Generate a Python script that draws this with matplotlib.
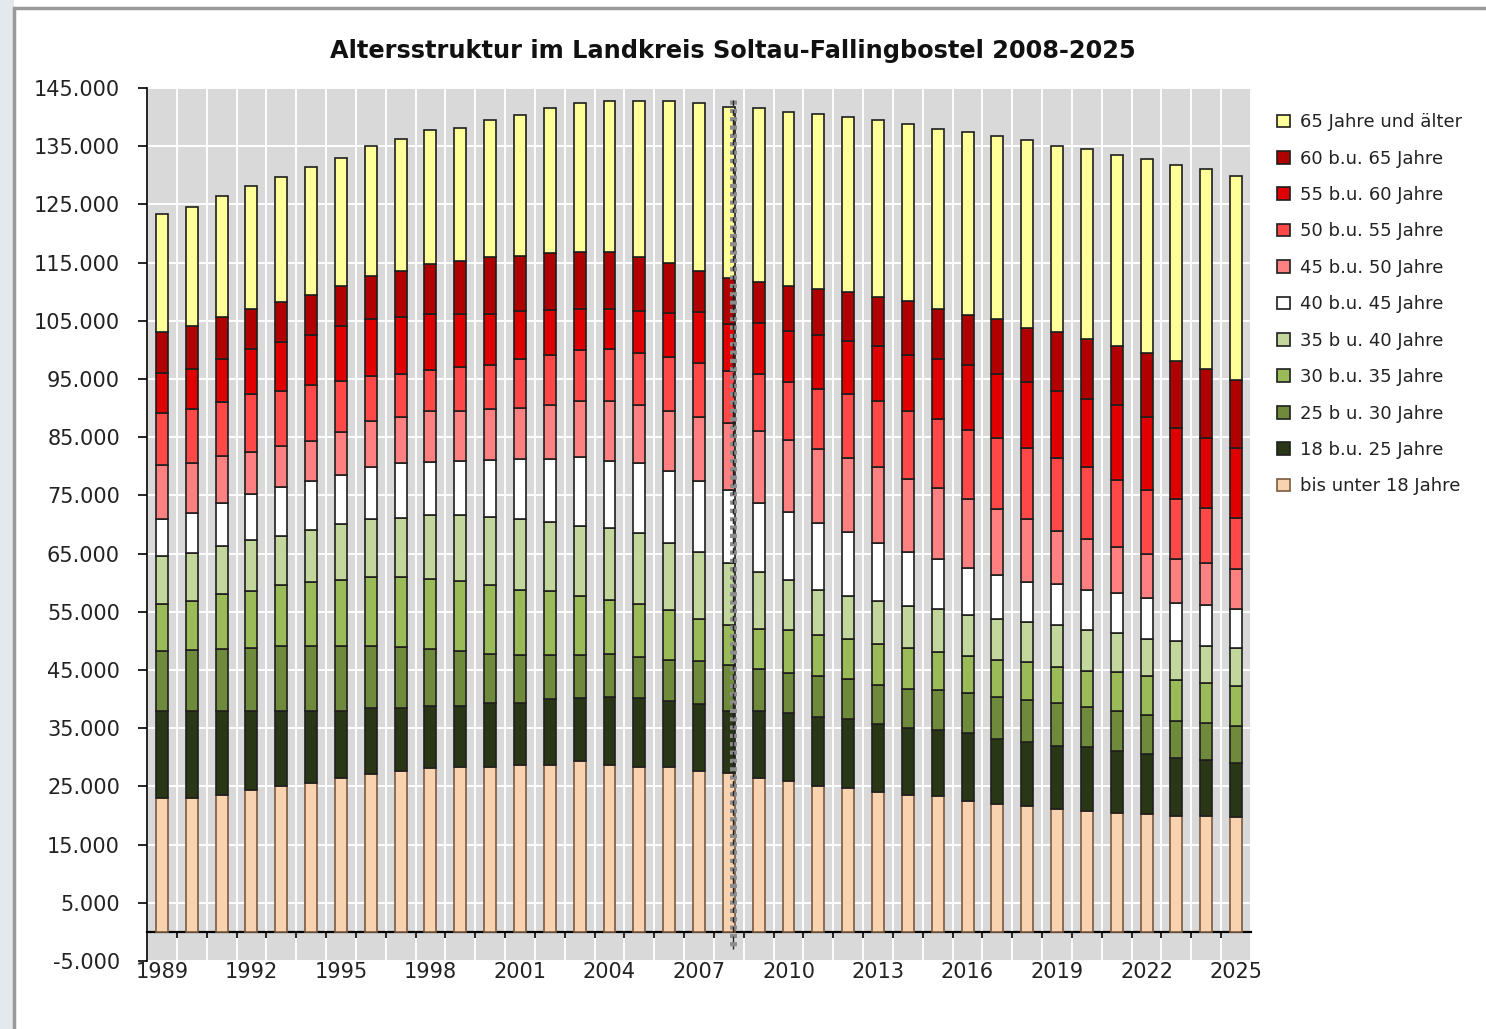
import matplotlib
matplotlib.use("Agg")
import matplotlib.pyplot as plt
from matplotlib.patches import Rectangle
from matplotlib.ticker import FuncFormatter
import numpy as np

years = list(range(1989, 2026))

labels = [
    "bis unter 18 Jahre", "18 b.u. 25 Jahre", "25 b u. 30 Jahre", "30 b.u. 35 Jahre",
    "35 b u. 40 Jahre", "40 b.u. 45 Jahre", "45 b.u. 50 Jahre", "50 b.u. 55 Jahre",
    "55 b.u. 60 Jahre", "60 b.u. 65 Jahre", "65 Jahre und älter",
]
colors = [
    "#F9D2B0", "#2A3716", "#6F8A3A", "#9BBB59", "#C3D69B", "#FFFFFF",
    "#FF8080", "#FF4848", "#E00000", "#B00000", "#FFFF99",
]

# persons per age group and year
unter_18 = [23000, 23000, 23600, 24300, 25000, 25600, 26500, 27100, 27600, 28200,
            28300, 28400, 28700, 28700, 29300, 28700, 28400, 28300, 27600, 27300,
            26400, 25900, 25000, 24700, 24000, 23600, 23300, 22500, 22000, 21700,
            21100, 20700, 20400, 20300, 20000, 20000, 19800]
a18_25 = [14900, 14900, 14300, 13600, 12900, 12300, 11400, 11400, 10900, 10600,
          10500, 10900, 10700, 11300, 10900, 11700, 11800, 11300, 11600, 10700,
          11500, 11700, 12000, 11800, 11800, 11500, 11400, 11600, 11100, 10900,
          10900, 11000, 10600, 10300, 9900, 9500, 9200]
a25_30 = [10300, 10500, 10700, 10900, 11300, 11300, 11300, 10700, 10500, 9800,
          9400, 8500, 8100, 7500, 7300, 7400, 7000, 7200, 7300, 7800,
          7200, 6900, 7000, 7000, 6700, 6700, 6900, 7000, 7300, 7300,
          7400, 6900, 6900, 6700, 6300, 6400, 6300]
a30_35 = [8200, 8400, 9500, 9700, 10400, 10900, 11200, 11800, 12000, 12100,
          12100, 11800, 11300, 11000, 10200, 9200, 9200, 8500, 7300, 7000,
          7000, 7300, 7000, 6900, 7000, 7000, 6500, 6300, 6300, 6500,
          6200, 6300, 6800, 6600, 7100, 6900, 6900]
a35_40 = [8200, 8300, 8200, 8800, 8500, 8900, 9700, 10000, 10200, 10900,
          11300, 11700, 12100, 11900, 12100, 12400, 12100, 11500, 11400, 10600,
          9800, 8600, 7800, 7300, 7300, 7200, 7300, 7000, 7100, 6800,
          7100, 7000, 6700, 6400, 6600, 6400, 6600]
a40_45 = [6400, 6900, 7400, 8000, 8400, 8500, 8400, 8900, 9300, 9200,
          9300, 9700, 10400, 10900, 11800, 11500, 12100, 12400, 12300, 12600,
          11800, 11700, 11500, 11000, 10100, 9300, 8600, 8200, 7600, 6900,
          7100, 6800, 6900, 7000, 6600, 6900, 6700]
a45_50 = [9300, 8600, 8100, 7100, 7000, 6800, 7400, 7900, 8000, 8700,
          8600, 8800, 8800, 9300, 9600, 10300, 10000, 10300, 11000, 11500,
          12400, 12500, 12700, 12700, 12900, 12600, 12200, 11700, 11300, 10900,
          9100, 8800, 7900, 7700, 7600, 7200, 6800]
a50_55 = [8900, 9200, 9200, 10000, 9400, 9600, 8800, 7700, 7300, 7000,
          7500, 7600, 8300, 8500, 8800, 8900, 8800, 9200, 9300, 8900,
          9700, 9900, 10300, 11100, 11400, 11600, 11900, 12000, 12200, 12200,
          12600, 12300, 11500, 11000, 10200, 9600, 8900]
a55_60 = [6900, 6900, 7400, 7800, 8400, 8600, 9400, 9800, 9800, 9600,
          9100, 8700, 8200, 7800, 7100, 7000, 7300, 7700, 8700, 8100,
          8900, 8800, 9200, 9000, 9400, 9600, 10300, 11100, 10900, 11200,
          11400, 11700, 12800, 12400, 12300, 12000, 12000]
a60_65 = [7000, 7400, 7300, 6900, 6900, 6900, 6800, 7400, 8000, 8700,
          9200, 9800, 9600, 9700, 9700, 9700, 9200, 8500, 7100, 7900,
          6900, 7600, 7900, 8400, 8500, 9300, 8700, 8600, 9500, 9400,
          10200, 10400, 10200, 11100, 11500, 11900, 11700]
a65_plus = [20200, 20400, 20800, 21000, 21500, 22000, 22100, 22300, 22700, 22900,
            22900, 23600, 24200, 24900, 25600, 26000, 26900, 27900, 28800, 29300,
            29900, 30000, 30200, 30200, 30400, 30500, 30800, 31400, 31400, 32300,
            32000, 32600, 32800, 33300, 33700, 34300, 35000]

series = [unter_18, a18_25, a25_30, a30_35, a35_40, a40_45,
          a45_50, a50_55, a55_60, a60_65, a65_plus]

W, H = 1486, 1029
fig = plt.figure(figsize=(W / 100, H / 100), dpi=100)
fig.patch.set_facecolor("white")

# outer frame like the screenshot
fig.patches.append(Rectangle((0, 0), 14 / W, 1, transform=fig.transFigure,
                             facecolor="#E3E9EC", edgecolor="none", zorder=0))
fig.patches.append(Rectangle((14 / W, -0.01), 1.0, 1 - 8 / H + 0.01, transform=fig.transFigure,
                             facecolor="none", edgecolor="#9A9A9A", lw=2.5, zorder=1))

ax = fig.add_axes([147 / W, 1 - 961 / H, (1251 - 147) / W, (961 - 88) / H])
ax.set_facecolor("#D9D9D9")

x = np.array(years)
bottom = np.zeros(len(years))
for vals, col, lab in zip(series, colors, labels):
    ec = "#7A5A40" if lab.startswith("bis") else "#1E1E1E"
    ax.bar(x, vals, width=0.4, bottom=bottom, color=col, edgecolor=ec,
           linewidth=1.2, label=lab, zorder=3)
    bottom += np.array(vals)

ax.set_xlim(1988.5, 2025.5)
ax.set_ylim(-5000, 145000)

# white gridlines
for v in range(-5000, 145001, 10000):
    ax.axhline(v, color="white", lw=1.4, zorder=1)
for b in np.arange(1988.5, 2025.6, 1.0):
    ax.axvline(b, color="white", lw=1.4, zorder=1)

ax.set_yticks(range(-5000, 145001, 10000))
ax.yaxis.set_major_formatter(FuncFormatter(lambda v, p: f"{int(v):,}".replace(",", ".")))
ax.tick_params(axis="y", direction="out", length=6.5, width=1.2, pad=13,
               labelsize=15, labelcolor="#222222")

ax.spines["bottom"].set_position(("data", 0))
ax.spines["bottom"].set_linewidth(1.6)
ax.spines["left"].set_linewidth(1.2)
ax.spines["top"].set_visible(False)
ax.spines["right"].set_visible(False)
ax.set_xticks(years[::3])
ax.set_xticks(np.arange(1989.5, 2025.5, 1.0), minor=True)
ax.tick_params(axis="x", which="major", length=0, pad=22, labelsize=15, labelcolor="#222222")
ax.tick_params(axis="x", which="minor", direction="out", length=4.5, width=1.2)

# marker line for the base year 2008
ax.plot([2008.13, 2008.13], [143000, -3000], color="#8C8C8C", lw=5,
        linestyle=(0, (0.6, 0.6)), zorder=5, clip_on=False)
ax.plot([2008.13, 2008.13], [143000, -3000], color="#222222", lw=1,
        linestyle=(0, (4, 3)), zorder=6, clip_on=False)

fig.text(733 / W, 1 - 51 / H, "Altersstruktur im Landkreis Soltau-Fallingbostel 2008-2025",
         ha="center", va="center", fontsize=17.3, fontweight="bold", color="#111111")

handles, labs = ax.get_legend_handles_labels()
leg = fig.legend(handles[::-1], labs[::-1], loc="upper left",
                 bbox_to_anchor=(1270 / W, 1 - 106 / H), frameon=False,
                 fontsize=13, handlelength=0.7, handleheight=0.7,
                 handletextpad=0.55, labelspacing=1.02, borderaxespad=0)
for t in leg.get_texts():
    t.set_color("#222222")

fig.savefig("out.png", dpi=100)
